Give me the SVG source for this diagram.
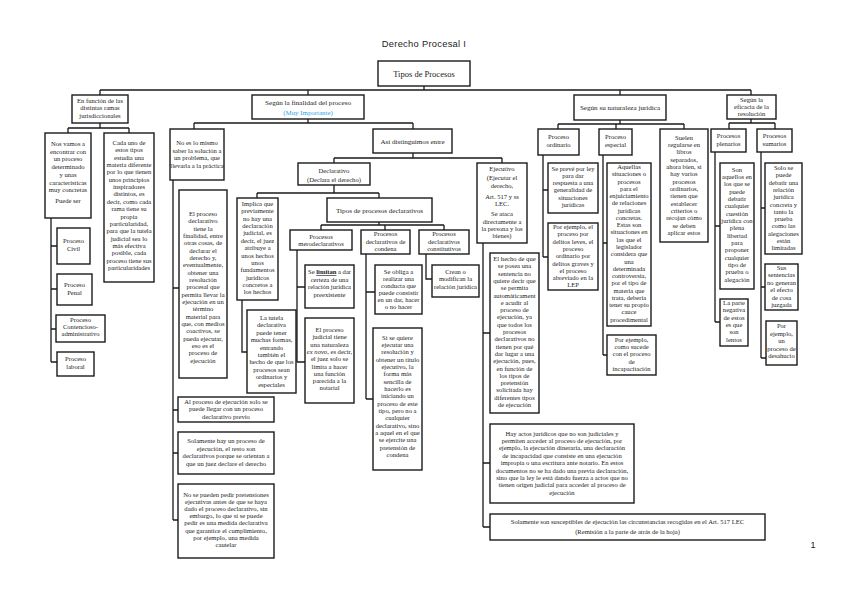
<svg xmlns="http://www.w3.org/2000/svg" width="848" height="599" viewBox="0 0 848 599">
<style>
rect{fill:#fff;stroke:#1a1a1a;stroke-width:1.4}
.c path{fill:none;stroke:#1a1a1a;stroke-width:1.3}
text{font-family:"Liberation Serif","Times New Roman",serif;fill:#222;text-anchor:middle}
.t{font-size:6.6px}
.h{font-size:7.1px}
.bu{font-weight:bold;text-decoration:underline}
.it{font-style:italic}
</style>
<rect x="0" y="0" width="848" height="599" style="fill:#fff;stroke:none"/>
<text x="424" y="47" style="font-family:'Liberation Sans',Arial,sans-serif;font-size:9.3px;letter-spacing:0.3px">Derecho Procesal I</text>
<text x="813" y="548" style="font-family:'Liberation Sans',Arial,sans-serif;font-size:9px">1</text>

<g class="c" id="connectors">
<path d="M424 86V90M100 90H751M100 90V95M308 90V95M620 90V95M751 90V95"/>
<path d="M100 123V128M68 128H129M68 128V133M129 128V133"/>
<path d="M51 218V362M51 246H57M51 289H57M51 329H56M51 362H57"/>
<path d="M308 119V123M194 123H413M194 123V129M413 123V129"/>
<path d="M173 180V520M173 288H179M173 410H178M173 453H178M173 520H178"/>
<path d="M413 153V158M334 158H502M334 158V163M502 158V163"/>
<path d="M334 185V193M257 193H379M257 193V198M379 193V198"/>
<path d="M242 300V352H247"/>
<path d="M379 222V225M321 225H444M321 225V230M385 225V230M444 225V230"/>
<path d="M297 250V362M297 287H305M297 362H305"/>
<path d="M366 254V399M366 292H375M366 399H373"/>
<path d="M426 254V279H432"/>
<path d="M483 243V527M483 333H490M483 463H490M483 527H490"/>
<path d="M620 120V124M558 124H684M558 124V129M616 124V129M684 124V129"/>
<path d="M543 155V257M543 190H548M543 257H548"/>
<path d="M603 155V355M603 243H607M603 355H607"/>
<path d="M751 119V123M729 123H775M729 123V129M775 123V129"/>
<path d="M715 152V322M715 226H720M715 322H720"/>
<path d="M761 152V358M761 208H765M761 287H765M761 358H766"/>
</g>

<g id="tipos"><rect x="378" y="61" width="92" height="25"/><text x="424" y="77" style="font-size:8.5px">Tipos de Procesos</text></g>

<g id="ramas"><rect x="72" y="95" width="56" height="28"/><text class="t" x="100" y="102.5"><tspan x="100">En función de las</tspan><tspan x="100" dy="7.6">distintas ramas</tspan><tspan x="100" dy="7.6">jurisdiccionales</tspan></text></g>

<g id="nosvamos"><rect x="45" y="133" width="46" height="85"/><text class="t" x="68" y="146"><tspan x="68">Nos vamos a</tspan><tspan x="68" dy="7.7">encontrar con</tspan><tspan x="68" dy="7.7">un proceso</tspan><tspan x="68" dy="7.7">determinado</tspan><tspan x="68" dy="7.7">y unas</tspan><tspan x="68" dy="7.7">características</tspan><tspan x="68" dy="7.7">muy concretas</tspan><tspan x="68" dy="10.5">Puede ser</tspan></text></g>

<g id="cadauno"><rect x="104" y="133" width="50" height="149"/><text class="t" x="129" y="145"><tspan x="129">Cada uno de</tspan><tspan x="129" dy="7.35">estos tipos</tspan><tspan x="129" dy="7.35">estudia una</tspan><tspan x="129" dy="7.35">materia diferente</tspan><tspan x="129" dy="7.35">por lo que tienen</tspan><tspan x="129" dy="7.35">unos principios</tspan><tspan x="129" dy="7.35">inspiradores</tspan><tspan x="129" dy="7.35">distintos, es</tspan><tspan x="129" dy="7.35">decir, como cada</tspan><tspan x="129" dy="7.35">rama tiene su</tspan><tspan x="129" dy="7.35">propia</tspan><tspan x="129" dy="7.35">particularidad,</tspan><tspan x="129" dy="7.35">para que la tutela</tspan><tspan x="129" dy="7.35">judicial sea lo</tspan><tspan x="129" dy="7.35">más efectiva</tspan><tspan x="129" dy="7.35">posible, cada</tspan><tspan x="129" dy="7.35">proceso tiene sus</tspan><tspan x="129" dy="7.35">particularidades</tspan></text></g>

<g id="civil"><rect x="57" y="228" width="33" height="36"/><text class="t" x="73.5" y="243"><tspan x="73.5">Proceso</tspan><tspan x="73.5" dy="7.7">Civil</tspan></text></g>
<g id="penal"><rect x="57" y="274" width="35" height="31"/><text class="t" x="74.5" y="287"><tspan x="74.5">Proceso</tspan><tspan x="74.5" dy="7.7">Penal</tspan></text></g>
<g id="contencioso"><rect x="56" y="315" width="49" height="27"/><text class="t" x="80.5" y="321.5"><tspan x="80.5">Proceso</tspan><tspan x="80.5" dy="7.4">Contencioso-</tspan><tspan x="80.5" dy="7.4">administrativo</tspan></text></g>
<g id="laboral"><rect x="57" y="352" width="37" height="24"/><text class="t" x="75.5" y="361"><tspan x="75.5">Proceso</tspan><tspan x="75.5" dy="7.7">laboral</tspan></text></g>

<g id="finalidad"><rect x="252" y="95" width="112" height="24"/><text class="h" x="308" y="104.5">Según la finalidad del proceso</text><text x="308" y="114.5" style="font-size:6.9px;fill:#2aa6ea">(Muy Importante)</text></g>

<g id="noeslomismo"><rect x="170" y="129" width="54" height="51"/><text class="t" x="197" y="145"><tspan x="197">No es lo mismo</tspan><tspan x="197" dy="7.7">saber la solución a</tspan><tspan x="197" dy="7.7">un problema, que</tspan><tspan x="197" dy="7.7">llevarla a la práctica</tspan></text></g>

<g id="asi"><rect x="373" y="129" width="79" height="24"/><text class="h" x="412.5" y="143.5">Así distinguimos entre</text></g>

<g id="declarativo"><rect x="298" y="163" width="72" height="22"/><text class="t" x="334" y="172.5"><tspan x="334">Declarativo</tspan><tspan x="334" dy="9">(Declara el derecho)</tspan></text></g>

<g id="ejecutivo"><rect x="477" y="163" width="50" height="80"/><text class="t" x="502" y="170.5"><tspan x="502">Ejecutivo</tspan><tspan x="502" dy="9">(Ejecutar el</tspan><tspan x="502" dy="8.3">derecho,</tspan><tspan x="502" dy="11">Art. 517 y ss</tspan><tspan x="502" dy="7.2">LEC.</tspan><tspan x="502" dy="10">Se ataca</tspan><tspan x="502" dy="7.6">directamente a</tspan><tspan x="502" dy="7.6">la persona y los</tspan><tspan x="502" dy="7">bienes)</tspan></text></g>

<g id="elproceso"><rect x="179" y="190" width="48" height="188"/><text class="t" x="203" y="216"><tspan x="203">El proceso</tspan><tspan x="203" dy="7.33">declarativo</tspan><tspan x="203" dy="7.33">tiene la</tspan><tspan x="203" dy="7.33">finalidad, entre</tspan><tspan x="203" dy="7.33">otras cosas, de</tspan><tspan x="203" dy="7.33">declarar el</tspan><tspan x="203" dy="7.33">derecho y,</tspan><tspan x="203" dy="7.33">eventualmente,</tspan><tspan x="203" dy="7.33">obtener una</tspan><tspan x="203" dy="7.33">resolución</tspan><tspan x="203" dy="7.33">procesal que</tspan><tspan x="203" dy="7.33">permita llevar la</tspan><tspan x="203" dy="7.33">ejecución en un</tspan><tspan x="203" dy="7.33">término</tspan><tspan x="203" dy="7.33">material para</tspan><tspan x="203" dy="7.33">que, con medios</tspan><tspan x="203" dy="7.33">coactivos, se</tspan><tspan x="203" dy="7.33">pueda ejecutar,</tspan><tspan x="203" dy="7.33">eso es el</tspan><tspan x="203" dy="7.33">proceso de</tspan><tspan x="203" dy="7.33">ejecución</tspan></text></g>

<g id="implica"><rect x="237" y="198" width="41" height="102"/><text class="t" x="257.5" y="206"><tspan x="257.5">Implica que</tspan><tspan x="257.5" dy="7.36">previamente</tspan><tspan x="257.5" dy="7.36">no hay una</tspan><tspan x="257.5" dy="7.36">declaración</tspan><tspan x="257.5" dy="7.36">judicial, es</tspan><tspan x="257.5" dy="7.36">decir, el juez</tspan><tspan x="257.5" dy="7.36">atribuye a</tspan><tspan x="257.5" dy="7.36">unos hechos</tspan><tspan x="257.5" dy="7.36">unos</tspan><tspan x="257.5" dy="7.36">fundamentos</tspan><tspan x="257.5" dy="7.36">jurídicos</tspan><tspan x="257.5" dy="7.36">concretos a</tspan><tspan x="257.5" dy="7.36">los hechos</tspan></text></g>

<g id="tutela"><rect x="247" y="310" width="49" height="83"/><text class="t" x="271.5" y="320"><tspan x="271.5">La tutela</tspan><tspan x="271.5" dy="7.4">declarativa</tspan><tspan x="271.5" dy="7.4">puede tener</tspan><tspan x="271.5" dy="7.4">muchas formas,</tspan><tspan x="271.5" dy="7.4">entrando</tspan><tspan x="271.5" dy="7.4">también el</tspan><tspan x="271.5" dy="7.4">hecho de que los</tspan><tspan x="271.5" dy="7.4">procesos sean</tspan><tspan x="271.5" dy="7.4">ordinarios y</tspan><tspan x="271.5" dy="7.4">especiales</tspan></text></g>

<g id="tiposdecl"><rect x="327" y="198" width="105" height="24"/><text class="h" x="379.5" y="212.5">Tipos de procesos declarativos</text></g>

<g id="mero"><rect x="290" y="230" width="62" height="20"/><text class="t" x="321" y="239"><tspan x="321">Procesos</tspan><tspan x="321" dy="7.4">merodeclarativos</tspan></text></g>
<g id="condena"><rect x="361" y="230" width="49" height="24"/><text class="t" x="385.5" y="236"><tspan x="385.5">Procesos</tspan><tspan x="385.5" dy="7.5">declarativos de</tspan><tspan x="385.5" dy="7.5">condena</tspan></text></g>
<g id="constitutivos"><rect x="419" y="230" width="50" height="24"/><text class="t" x="444" y="236"><tspan x="444">Procesos</tspan><tspan x="444" dy="7.5">declarativos</tspan><tspan x="444" dy="7.5">constitutivos</tspan></text></g>

<g id="selimitan"><rect x="305" y="265" width="49" height="43"/><text class="t" x="329.5" y="274"><tspan x="329.5">Se <tspan class="bu">limitan</tspan> a dar</tspan><tspan x="329.5" dy="7.6">certeza de una</tspan><tspan x="329.5" dy="7.6">relación jurídica</tspan><tspan x="329.5" dy="7.6">preexistente</tspan></text></g>

<g id="judicial"><rect x="305" y="318" width="49" height="85"/><text class="t" x="329.5" y="332"><tspan x="329.5">El proceso</tspan><tspan x="329.5" dy="7.3">judicial tiene</tspan><tspan x="329.5" dy="7.3">una naturaleza</tspan><tspan x="329.5" dy="7.3"><tspan class="it">ex novo</tspan>, es decir,</tspan><tspan x="329.5" dy="7.3">el juez solo se</tspan><tspan x="329.5" dy="7.3">limita a hacer</tspan><tspan x="329.5" dy="7.3">una función</tspan><tspan x="329.5" dy="7.3">parecida a la</tspan><tspan x="329.5" dy="7.3">notarial</tspan></text></g>

<g id="seobliga"><rect x="375" y="265" width="47" height="49"/><text class="t" x="398.5" y="274"><tspan x="398.5">Se obliga a</tspan><tspan x="398.5" dy="7">realizar una</tspan><tspan x="398.5" dy="7">conducta que</tspan><tspan x="398.5" dy="7">puede consistir</tspan><tspan x="398.5" dy="7">en un dar, hacer</tspan><tspan x="398.5" dy="7">o no hacer</tspan></text></g>

<g id="siquiere"><rect x="373" y="328" width="49" height="142"/><text class="t" x="397.5" y="339.5"><tspan x="397.5">Si se quiere</tspan><tspan x="397.5" dy="7.34">ejecutar una</tspan><tspan x="397.5" dy="7.34">resolución y</tspan><tspan x="397.5" dy="7.34">obtener un título</tspan><tspan x="397.5" dy="7.34">ejecutivo, la</tspan><tspan x="397.5" dy="7.34">forma más</tspan><tspan x="397.5" dy="7.34">sencilla de</tspan><tspan x="397.5" dy="7.34">hacerlo es</tspan><tspan x="397.5" dy="7.34">iniciando un</tspan><tspan x="397.5" dy="7.34">proceso de este</tspan><tspan x="397.5" dy="7.34">tipo, pero no a</tspan><tspan x="397.5" dy="7.34">cualquier</tspan><tspan x="397.5" dy="7.34">declarativo, sino</tspan><tspan x="397.5" dy="7.34">a aquel en el que</tspan><tspan x="397.5" dy="7.34">se ejercite una</tspan><tspan x="397.5" dy="7.34">pretensión de</tspan><tspan x="397.5" dy="7.34">condena</tspan></text></g>

<g id="crean"><rect x="432" y="265" width="47" height="32"/><text class="t" x="455.5" y="274"><tspan x="455.5">Crean o</tspan><tspan x="455.5" dy="7.4">modifican la</tspan><tspan x="455.5" dy="7.4">relación jurídica</tspan></text></g>

<g id="alproceso"><rect x="178" y="397" width="96" height="25"/><text class="t" x="226" y="403.5"><tspan x="226">Al proceso de ejecución solo se</tspan><tspan x="226" dy="7.5">puede llegar con un proceso</tspan><tspan x="226" dy="7.5">declarativo previo</tspan></text></g>

<g id="solamentehay"><rect x="178" y="432" width="96" height="42"/><text class="t" x="226" y="443"><tspan x="226">Solamente hay un proceso de</tspan><tspan x="226" dy="7.6">ejecución, el resto son</tspan><tspan x="226" dy="7.6">declarativos porque se orientan a</tspan><tspan x="226" dy="7.6">que un juez declare el derecho</tspan></text></g>

<g id="nosepueden"><rect x="178" y="484" width="96" height="74"/><text class="t" x="226" y="496.5"><tspan x="226">No se pueden pedir pretensiones</tspan><tspan x="226" dy="7.24">ejecutivas antes de que se haya</tspan><tspan x="226" dy="7.24">dado el proceso declarativo, sin</tspan><tspan x="226" dy="7.24">embargo, lo que sí se puede</tspan><tspan x="226" dy="7.24">pedir es una medida declarativa</tspan><tspan x="226" dy="7.24">que garantice el cumplimiento,</tspan><tspan x="226" dy="7.24">por ejemplo, una medida</tspan><tspan x="226" dy="7.24">cautelar</tspan></text></g>

<g id="elhecho"><rect x="490" y="253" width="49" height="160"/><text class="t" x="514.5" y="261"><tspan x="514.5">El hecho de que</tspan><tspan x="514.5" dy="7.3">se posea una</tspan><tspan x="514.5" dy="7.3">sentencia no</tspan><tspan x="514.5" dy="7.3">quiere decir que</tspan><tspan x="514.5" dy="7.3">se permita</tspan><tspan x="514.5" dy="7.3">automáticament</tspan><tspan x="514.5" dy="7.3">e acudir al</tspan><tspan x="514.5" dy="7.3">proceso de</tspan><tspan x="514.5" dy="7.3">ejecución, ya</tspan><tspan x="514.5" dy="7.3">que todos los</tspan><tspan x="514.5" dy="7.3">procesos</tspan><tspan x="514.5" dy="7.3">declarativos no</tspan><tspan x="514.5" dy="7.3">tienen por qué</tspan><tspan x="514.5" dy="7.3">dar lugar a una</tspan><tspan x="514.5" dy="7.3">ejecución, pues,</tspan><tspan x="514.5" dy="7.3">en función de</tspan><tspan x="514.5" dy="7.3">los tipos de</tspan><tspan x="514.5" dy="7.3">pretensión</tspan><tspan x="514.5" dy="7.3">solicitada hay</tspan><tspan x="514.5" dy="7.3">diferentes tipos</tspan><tspan x="514.5" dy="7.3">de ejecución</tspan></text></g>

<g id="hayactos"><rect x="490" y="424" width="144" height="79"/><text class="t" x="562" y="435.5"><tspan x="562">Hay actos jurídicos que no son judiciales y</tspan><tspan x="562" dy="7.4">permiten acceder al proceso de ejecución, por</tspan><tspan x="562" dy="7.4">ejemplo, la ejecución dineraria, una declaración</tspan><tspan x="562" dy="7.4">de incapacidad que consiste en una ejecución</tspan><tspan x="562" dy="7.4">impropia o una escritura ante notario. En estos</tspan><tspan x="562" dy="7.4">documentos no se ha dado una previa declaración,</tspan><tspan x="562" dy="7.4">sino que la ley le está dando fuerza a actos que no</tspan><tspan x="562" dy="7.4">tienen origen judicial para acceder al proceso de</tspan><tspan x="562" dy="7.4">ejecución</tspan></text></g>

<g id="solamenteson"><rect x="490" y="514" width="275" height="26"/><text class="t" x="627.5" y="523.5"><tspan x="627.5">Solamente son susceptibles de ejecución las circunstancias recogidas en el Art. 517 LEC</tspan><tspan x="627.5" dy="10">(Remisión a la parte de atrás de la hoja)</tspan></text></g>

<g id="naturaleza"><rect x="574" y="95" width="92" height="25"/><text class="h" x="620" y="109.5">Según su naturaleza jurídica</text></g>
<g id="ordinario"><rect x="538" y="129" width="41" height="26"/><text class="t" x="558.5" y="139"><tspan x="558.5">Proceso</tspan><tspan x="558.5" dy="7.8">ordinario</tspan></text></g>
<g id="especial"><rect x="599" y="129" width="33" height="26"/><text class="t" x="615.5" y="139"><tspan x="615.5">Proceso</tspan><tspan x="615.5" dy="7.8">especial</tspan></text></g>

<g id="suelen"><rect x="660" y="129" width="48" height="113"/><text class="t" x="684" y="139.5"><tspan x="684">Suelen</tspan><tspan x="684" dy="7.35">regularse en</tspan><tspan x="684" dy="7.35">libros</tspan><tspan x="684" dy="7.35">separados,</tspan><tspan x="684" dy="7.35">ahora bien, si</tspan><tspan x="684" dy="7.35">hay varios</tspan><tspan x="684" dy="7.35">procesos</tspan><tspan x="684" dy="7.35">ordinarios,</tspan><tspan x="684" dy="7.35">tienen que</tspan><tspan x="684" dy="7.35">establecer</tspan><tspan x="684" dy="7.35">criterios o</tspan><tspan x="684" dy="7.35">recojan cómo</tspan><tspan x="684" dy="7.35">se deben</tspan><tspan x="684" dy="7.35">aplicar estos</tspan></text></g>

<g id="seprevé"><rect x="548" y="163" width="50" height="50"/><text class="t" x="573" y="170.5"><tspan x="573">Se prevé por ley</tspan><tspan x="573" dy="7.3">para dar</tspan><tspan x="573" dy="7.3">respuesta a una</tspan><tspan x="573" dy="7.3">generalidad de</tspan><tspan x="573" dy="7.3">situaciones</tspan><tspan x="573" dy="7.3">jurídicas</tspan></text></g>

<g id="ejordinario"><rect x="548" y="223" width="50" height="67"/><text class="t" x="573" y="229"><tspan x="573">Por ejemplo, el</tspan><tspan x="573" dy="7.3">proceso por</tspan><tspan x="573" dy="7.3">delitos leves, el</tspan><tspan x="573" dy="7.3">proceso</tspan><tspan x="573" dy="7.3">ordinario por</tspan><tspan x="573" dy="7.3">delitos graves y</tspan><tspan x="573" dy="7.3">el proceso</tspan><tspan x="573" dy="7.3">abreviado en la</tspan><tspan x="573" dy="7.3">LEP</tspan></text></g>

<g id="aquellas"><rect x="607" y="163" width="44" height="163"/><text class="t" x="629" y="169"><tspan x="629">Aquellas</tspan><tspan x="629" dy="7.27">situaciones o</tspan><tspan x="629" dy="7.27">procesos</tspan><tspan x="629" dy="7.27">para el</tspan><tspan x="629" dy="7.27">enjuiciamiento</tspan><tspan x="629" dy="7.27">de relaciones</tspan><tspan x="629" dy="7.27">jurídicas</tspan><tspan x="629" dy="7.27">concretas.</tspan><tspan x="629" dy="7.27">Estas son</tspan><tspan x="629" dy="7.27">situaciones en</tspan><tspan x="629" dy="7.27">las que el</tspan><tspan x="629" dy="7.27">legislador</tspan><tspan x="629" dy="7.27">considera que</tspan><tspan x="629" dy="7.27">una</tspan><tspan x="629" dy="7.27">determinada</tspan><tspan x="629" dy="7.27">controversia,</tspan><tspan x="629" dy="7.27">por el tipo de</tspan><tspan x="629" dy="7.27">materia que</tspan><tspan x="629" dy="7.27">trata, debería</tspan><tspan x="629" dy="7.27">tener su propio</tspan><tspan x="629" dy="7.27">cauce</tspan><tspan x="629" dy="7.27">procedimental</tspan></text></g>

<g id="ejespecial"><rect x="607" y="335" width="49" height="40"/><text class="t" x="631.5" y="341.5"><tspan x="631.5">Por ejemplo,</tspan><tspan x="631.5" dy="7.4">como sucede</tspan><tspan x="631.5" dy="7.4">con el proceso</tspan><tspan x="631.5" dy="7.4">de</tspan><tspan x="631.5" dy="7.4">incapacitación</tspan></text></g>

<g id="eficacia"><rect x="727" y="95" width="49" height="24"/><text class="t" x="751.5" y="101.5"><tspan x="751.5">Según la</tspan><tspan x="751.5" dy="7.2">eficacia de la</tspan><tspan x="751.5" dy="7.2">resolución</tspan></text></g>
<g id="plenarios"><rect x="711" y="129" width="35" height="23"/><text class="t" x="728.5" y="138"><tspan x="728.5">Procesos</tspan><tspan x="728.5" dy="8.3">plenarios</tspan></text></g>
<g id="sumarios"><rect x="757" y="129" width="35" height="23"/><text class="t" x="774.5" y="138"><tspan x="774.5">Procesos</tspan><tspan x="774.5" dy="8.3">sumarios</tspan></text></g>

<g id="sonaquellos"><rect x="720" y="163" width="34" height="126"/><text class="t" x="737" y="171.5"><tspan x="737">Son</tspan><tspan x="737" dy="7.35">aquellos en</tspan><tspan x="737" dy="7.35">los que se</tspan><tspan x="737" dy="7.35">puede</tspan><tspan x="737" dy="7.35">debatir</tspan><tspan x="737" dy="7.35">cualquier</tspan><tspan x="737" dy="7.35">cuestión</tspan><tspan x="737" dy="7.35">jurídica con</tspan><tspan x="737" dy="7.35">plena</tspan><tspan x="737" dy="7.35">libertad</tspan><tspan x="737" dy="7.35">para</tspan><tspan x="737" dy="7.35">proponer</tspan><tspan x="737" dy="7.35">cualquier</tspan><tspan x="737" dy="7.35">tipo de</tspan><tspan x="737" dy="7.35">prueba o</tspan><tspan x="737" dy="7.35">alegación</tspan></text></g>

<g id="parteneg"><rect x="720" y="299" width="28" height="47"/><text class="t" x="734" y="305"><tspan x="734">La parte</tspan><tspan x="734" dy="7.3">negativa</tspan><tspan x="734" dy="7.3">de estos</tspan><tspan x="734" dy="7.3">es que</tspan><tspan x="734" dy="7.3">son</tspan><tspan x="734" dy="7.3">lentos</tspan></text></g>

<g id="soloSe"><rect x="765" y="163" width="37" height="91"/><text class="t" x="783.5" y="170"><tspan x="783.5">Solo se</tspan><tspan x="783.5" dy="7.3">puede</tspan><tspan x="783.5" dy="7.3">debatir una</tspan><tspan x="783.5" dy="7.3">relación</tspan><tspan x="783.5" dy="7.3">jurídica</tspan><tspan x="783.5" dy="7.3">concreta y</tspan><tspan x="783.5" dy="7.3">tanto la</tspan><tspan x="783.5" dy="7.3">prueba</tspan><tspan x="783.5" dy="7.3">como las</tspan><tspan x="783.5" dy="7.3">alegaciones</tspan><tspan x="783.5" dy="7.3">están</tspan><tspan x="783.5" dy="7.3">limitadas</tspan></text></g>

<g id="sussentencias"><rect x="765" y="264" width="33" height="46"/><text class="t" x="781.5" y="270"><tspan x="781.5">Sus</tspan><tspan x="781.5" dy="7.4">sentencias</tspan><tspan x="781.5" dy="7.4">no generan</tspan><tspan x="781.5" dy="7.4">el efecto</tspan><tspan x="781.5" dy="7.4">de cosa</tspan><tspan x="781.5" dy="7.4">juzgada</tspan></text></g>

<g id="desahucio"><rect x="766" y="321" width="31" height="44"/><text class="t" x="781.5" y="328"><tspan x="781.5">Por</tspan><tspan x="781.5" dy="7.6">ejemplo,</tspan><tspan x="781.5" dy="7.6">un</tspan><tspan x="781.5" dy="7.6">proceso de</tspan><tspan x="781.5" dy="7.6">desahucio</tspan></text></g>
</svg>
